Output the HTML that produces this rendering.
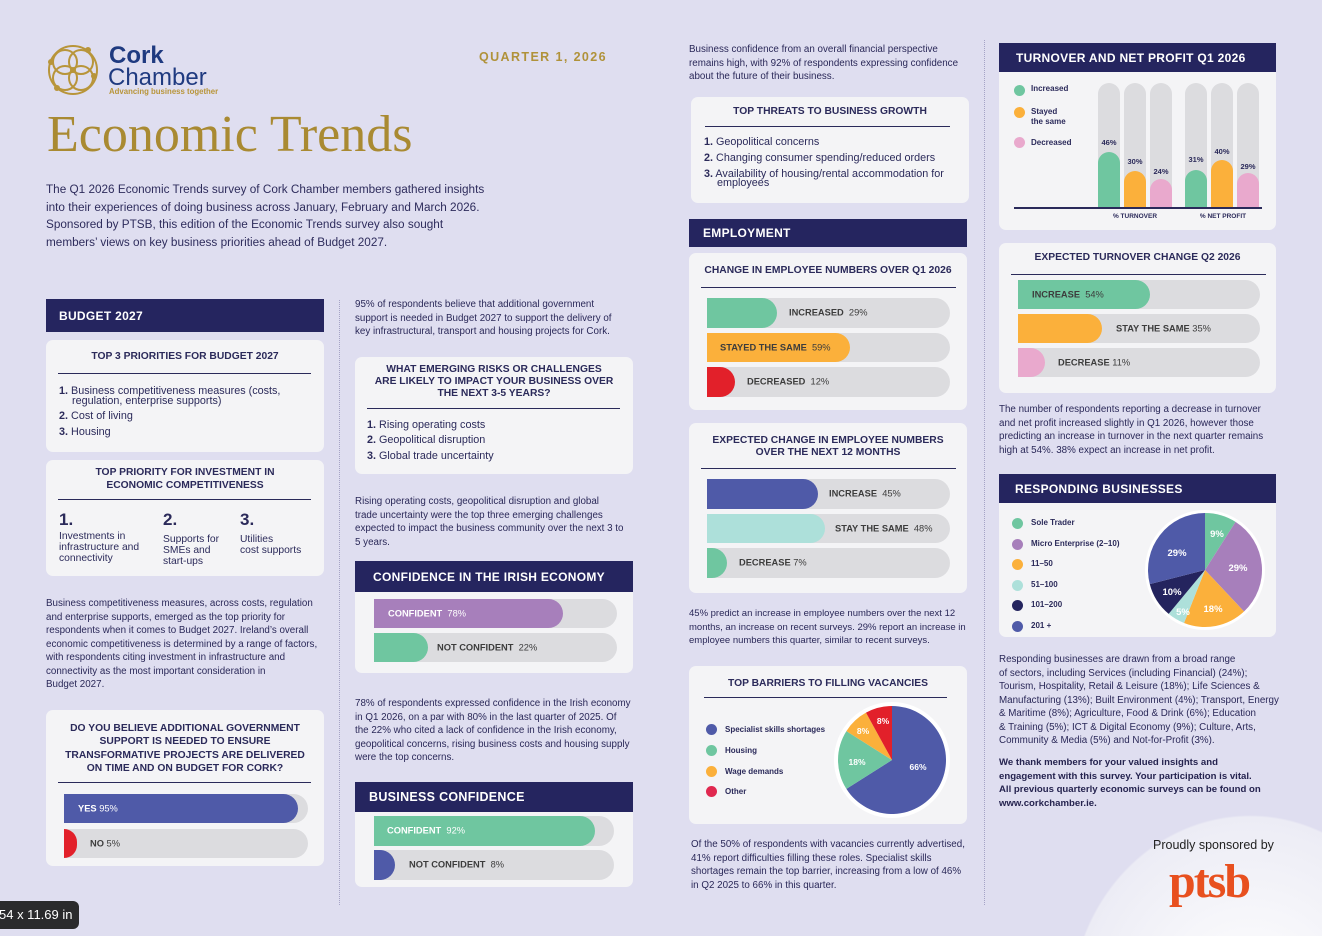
<!DOCTYPE html>
<html><head><meta charset="utf-8">
<style>
*{margin:0;padding:0;box-sizing:border-box}
html,body{width:1322px;height:936px;overflow:hidden}
body{background:#dfdef0;font-family:"Liberation Sans",sans-serif;color:#2f2d5e;position:relative}
.a{position:absolute;white-space:nowrap;line-height:1}
.p{position:absolute;white-space:nowrap;font-size:9.8px;line-height:13.5px;color:#2a2858}
.card{position:absolute;background:#f4f4f6;border-radius:7px}
.hd{position:absolute;background:#25255f;color:#fff;font-weight:bold;font-size:12px;letter-spacing:.3px}
.hd span{position:absolute;top:50%;transform:translateY(-50%);white-space:nowrap}
.ct{position:absolute;text-align:center;font-weight:bold;font-size:10.3px;line-height:12.8px;color:#2b2a5a;white-space:nowrap}
.rule{position:absolute;height:1.3px;background:#2a2a5a}
.li{position:absolute;white-space:nowrap;font-size:10.8px;line-height:1;color:#2b2a5a}
.li b{font-weight:bold}
.tr{position:absolute;background:#dcdcdf;border-radius:0 15px 15px 0;overflow:hidden}
.fl{position:absolute;left:0;top:0;bottom:0;border-radius:0 15px 15px 0}
.bl{position:absolute;top:50%;transform:translateY(-50%);white-space:nowrap;font-size:9.3px;color:#3c3c3c;line-height:1}
.bl b{font-weight:bold}
.w{color:#fff}
.col{position:absolute;width:22px;background:#dcdcdf;border-radius:11px 11px 0 0;overflow:hidden}
.col div{position:absolute;left:0;right:0;bottom:0;border-radius:11px 11px 0 0}
.cl{position:absolute;font-size:7.5px;font-weight:bold;color:#2b2a5a;width:30px;text-align:center;line-height:1}
.dot{position:absolute;width:11px;height:11px;border-radius:50%}
.lg{position:absolute;font-size:8px;font-weight:bold;color:#2b2a5a;white-space:nowrap;line-height:10px}
.vd{position:absolute;width:0;border-left:1px dotted #a5a3c6}
</style></head><body>

<!-- bottom right blob (single element, gradient) -->
<div style="position:absolute;left:1060px;top:810px;width:262px;height:126px;background:radial-gradient(ellipse 180px 195px at 190px 200px,#ffffff 0%,#f6f6fa 50%,#ececf5 99%,rgba(236,236,245,0) 100%)"></div>

<!-- Logo -->
<svg style="position:absolute;left:44px;top:42px" width="60" height="56" viewBox="0 0 60 56">
<g fill="none" stroke="#b8953a" stroke-width="2">
<circle cx="29" cy="28" r="24"/>
<circle cx="21" cy="20" r="12"/>
<circle cx="37" cy="20" r="12"/>
<circle cx="21" cy="36" r="12"/>
<circle cx="37" cy="36" r="12"/>
</g>
<g fill="#b8953a">
<circle cx="7" cy="20" r="3"/><circle cx="13" cy="46" r="3"/><circle cx="44" cy="8" r="3"/><circle cx="50" cy="34" r="3"/><circle cx="29" cy="28" r="3"/>
</g>
</svg>
<div class="a" style="left:109px;top:44px;font-size:24px;font-weight:bold;color:#1f3a80">Cork</div>
<div class="a" style="left:108px;top:66px;font-size:24px;color:#1f3a80">Chamber</div>
<div class="a" style="left:109px;top:88px;font-size:7.8px;font-weight:bold;color:#b8953a">Advancing business together</div>

<div class="a" style="left:479px;top:51px;font-size:12.5px;font-weight:bold;color:#b0923a;letter-spacing:1.4px">QUARTER 1, 2026</div>
<div class="a" style="left:47px;top:109px;font-size:52px;font-family:'Liberation Serif',serif;color:#a98a32">Economic Trends</div>

<div class="p" style="left:46px;top:181px;font-size:11.75px;line-height:17.7px;color:#2e2c5c">The Q1 2026 Economic Trends survey of Cork Chamber members gathered insights<br>into their experiences of doing business across January, February and March 2026.<br>Sponsored by PTSB, this edition of the Economic Trends survey also sought<br>members’ views on key business priorities ahead of Budget 2027.</div>

<!-- dotted dividers -->
<div class="vd" style="left:339px;top:300px;height:605px"></div>
<div class="vd" style="left:984px;top:40px;height:865px"></div>

<!-- ========== COLUMN 1 ========== -->
<div class="hd" style="left:46px;top:299px;width:278px;height:33px"><span style="left:13px">BUDGET 2027</span></div>

<div class="card" style="left:46px;top:340px;width:278px;height:112px"></div>
<div class="ct" style="left:46px;top:351px;width:278px">TOP 3 PRIORITIES FOR BUDGET 2027</div>
<div class="rule" style="left:58px;top:373px;width:253px"></div>
<div class="li" style="left:59px;top:386px"><b>1.</b> Business competitiveness measures (costs,</div>
<div class="li" style="left:72px;top:396px">regulation, enterprise supports)</div>
<div class="li" style="left:59px;top:411px"><b>2.</b> Cost of living</div>
<div class="li" style="left:59px;top:427px"><b>3.</b> Housing</div>

<div class="card" style="left:46px;top:460px;width:278px;height:116px"></div>
<div class="ct" style="left:46px;top:467px;width:278px">TOP PRIORITY FOR INVESTMENT IN<br>ECONOMIC COMPETITIVENESS</div>
<div class="rule" style="left:58px;top:499px;width:253px"></div>
<div class="a" style="left:59px;top:511px;font-size:17px;font-weight:bold;color:#2b2a5a">1.</div>
<div class="a" style="left:163px;top:511px;font-size:17px;font-weight:bold;color:#2b2a5a">2.</div>
<div class="a" style="left:240px;top:511px;font-size:17px;font-weight:bold;color:#2b2a5a">3.</div>
<div class="p" style="left:59px;top:531px;font-size:10.3px;line-height:11px;color:#2b2a5a">Investments in<br>infrastructure and<br>connectivity</div>
<div class="p" style="left:163px;top:534px;font-size:10.3px;line-height:11px;color:#2b2a5a">Supports for<br>SMEs and<br>start-ups</div>
<div class="p" style="left:240px;top:534px;font-size:10.3px;line-height:11px;color:#2b2a5a">Utilities<br>cost supports</div>

<div class="p" style="left:46px;top:597px">Business competitiveness measures, across costs, regulation<br>and enterprise supports, emerged as the top priority for<br>respondents when it comes to Budget 2027. Ireland’s overall<br>economic competitiveness is determined by a range of factors,<br>with respondents citing investment in infrastructure and<br>connectivity as the most important consideration in<br>Budget 2027.</div>

<div class="card" style="left:46px;top:710px;width:278px;height:156px"></div>
<div class="ct" style="left:46px;top:722px;width:278px;line-height:13.4px">DO YOU BELIEVE ADDITIONAL GOVERNMENT<br>SUPPORT IS NEEDED TO ENSURE<br>TRANSFORMATIVE PROJECTS ARE DELIVERED<br>ON TIME AND ON BUDGET FOR CORK?</div>
<div class="rule" style="left:58px;top:782px;width:253px"></div>
<div class="tr" style="left:64px;top:794px;width:244px;height:29px"><div class="fl" style="width:234px;background:#4f5aa8"></div><div class="bl w" style="left:14px"><b>YES</b> 95%</div></div>
<div class="tr" style="left:64px;top:829px;width:244px;height:29px"><div class="fl" style="width:13px;background:#e2202a"></div><div class="bl" style="left:26px"><b>NO</b> 5%</div></div>

<!-- ========== COLUMN 2 ========== -->
<div class="p" style="left:355px;top:298px">95% of respondents believe that additional government<br>support is needed in Budget 2027 to support the delivery of<br>key infrastructural, transport and housing projects for Cork.</div>

<div class="card" style="left:355px;top:357px;width:278px;height:117px"></div>
<div class="ct" style="left:355px;top:364px;width:278px;line-height:12px">WHAT EMERGING RISKS OR CHALLENGES<br>ARE LIKELY TO IMPACT YOUR BUSINESS OVER<br>THE NEXT 3-5 YEARS?</div>
<div class="rule" style="left:367px;top:408px;width:253px"></div>
<div class="li" style="left:367px;top:420px"><b>1.</b> Rising operating costs</div>
<div class="li" style="left:367px;top:435px"><b>2.</b> Geopolitical disruption</div>
<div class="li" style="left:367px;top:451px"><b>3.</b> Global trade uncertainty</div>

<div class="p" style="left:355px;top:495px">Rising operating costs, geopolitical disruption and global<br>trade uncertainty were the top three emerging challenges<br>expected to impact the business community over the next 3 to<br>5 years.</div>

<div class="hd" style="left:355px;top:561px;width:278px;height:31px;font-size:12px"><span style="left:18px">CONFIDENCE IN THE IRISH ECONOMY</span></div>
<div class="card" style="left:355px;top:592px;width:278px;height:81px;border-radius:0 0 7px 7px"></div>
<div class="tr" style="left:374px;top:599px;width:243px;height:29px"><div class="fl" style="width:189px;background:#a77fbb"></div><div class="bl w" style="left:14px"><b>CONFIDENT</b>&nbsp; 78%</div></div>
<div class="tr" style="left:374px;top:633px;width:243px;height:29px"><div class="fl" style="width:54px;background:#6fc6a0"></div><div class="bl" style="left:63px"><b>NOT CONFIDENT</b>&nbsp; 22%</div></div>

<div class="p" style="left:355px;top:697px">78% of respondents expressed confidence in the Irish economy<br>in Q1 2026, on a par with 80% in the last quarter of 2025. Of<br>the 22% who cited a lack of confidence in the Irish economy,<br>geopolitical concerns, rising business costs and housing supply<br>were the top concerns.</div>

<div class="hd" style="left:355px;top:782px;width:278px;height:30px;font-size:12.5px"><span style="left:14px">BUSINESS CONFIDENCE</span></div>
<div class="card" style="left:355px;top:812px;width:278px;height:75px;border-radius:0 0 7px 7px"></div>
<div class="tr" style="left:374px;top:816px;width:240px;height:30px"><div class="fl" style="width:221px;background:#6fc6a0"></div><div class="bl w" style="left:13px"><b>CONFIDENT</b>&nbsp; 92%</div></div>
<div class="tr" style="left:374px;top:850px;width:240px;height:30px"><div class="fl" style="width:21px;background:#4f5aa8"></div><div class="bl" style="left:35px"><b>NOT CONFIDENT</b>&nbsp; 8%</div></div>

<!-- ========== COLUMN 3 ========== -->
<div class="p" style="left:689px;top:43px">Business confidence from an overall financial perspective<br>remains high, with 92% of respondents expressing confidence<br>about the future of their business.</div>

<div class="card" style="left:691px;top:97px;width:278px;height:106px"></div>
<div class="ct" style="left:691px;top:106px;width:278px">TOP THREATS TO BUSINESS GROWTH</div>
<div class="rule" style="left:705px;top:126px;width:245px"></div>
<div class="li" style="left:704px;top:137px"><b>1.</b> Geopolitical concerns</div>
<div class="li" style="left:704px;top:153px"><b>2.</b> Changing consumer spending/reduced orders</div>
<div class="li" style="left:704px;top:169px"><b>3.</b> Availability of housing/rental accommodation for</div>
<div class="li" style="left:717px;top:178px">employees</div>

<div class="hd" style="left:689px;top:219px;width:278px;height:28px"><span style="left:14px">EMPLOYMENT</span></div>

<div class="card" style="left:689px;top:253px;width:278px;height:157px"></div>
<div class="ct" style="left:689px;top:265px;width:278px">CHANGE IN EMPLOYEE NUMBERS OVER Q1 2026</div>
<div class="rule" style="left:701px;top:287px;width:255px"></div>
<div class="tr" style="left:707px;top:298px;width:243px;height:30px"><div class="fl" style="width:70px;background:#6fc6a0"></div><div class="bl" style="left:82px"><b>INCREASED</b>&nbsp; 29%</div></div>
<div class="tr" style="left:707px;top:333px;width:243px;height:29px"><div class="fl" style="width:143px;background:#fbb03b"></div><div class="bl" style="left:13px"><b>STAYED THE SAME</b>&nbsp; 59%</div></div>
<div class="tr" style="left:707px;top:367px;width:243px;height:30px"><div class="fl" style="width:28px;background:#e2202a"></div><div class="bl" style="left:40px"><b>DECREASED</b>&nbsp; 12%</div></div>

<div class="card" style="left:689px;top:423px;width:278px;height:170px"></div>
<div class="ct" style="left:689px;top:435px;width:278px;line-height:12px">EXPECTED CHANGE IN EMPLOYEE NUMBERS<br>OVER THE NEXT 12 MONTHS</div>
<div class="rule" style="left:701px;top:468px;width:255px"></div>
<div class="tr" style="left:707px;top:479px;width:243px;height:30px"><div class="fl" style="width:111px;background:#4f5aa8"></div><div class="bl" style="left:122px"><b>INCREASE</b>&nbsp; 45%</div></div>
<div class="tr" style="left:707px;top:514px;width:243px;height:29px"><div class="fl" style="width:118px;background:#ade0da"></div><div class="bl" style="left:128px"><b>STAY THE SAME</b>&nbsp; 48%</div></div>
<div class="tr" style="left:707px;top:548px;width:243px;height:30px"><div class="fl" style="width:20px;background:#6fc6a0"></div><div class="bl" style="left:32px"><b>DECREASE</b> 7%</div></div>

<div class="p" style="left:689px;top:607px;font-size:9.5px">45% predict an increase in employee numbers over the next 12<br>months, an increase on recent surveys. 29% report an increase in<br>employee numbers this quarter, similar to recent surveys.</div>

<div class="card" style="left:689px;top:666px;width:278px;height:158px"></div>
<div class="ct" style="left:689px;top:678px;width:278px">TOP BARRIERS TO FILLING VACANCIES</div>
<div class="rule" style="left:704px;top:697px;width:243px"></div>
<div class="dot" style="left:706px;top:724px;background:#4f5aa8"></div>
<div class="dot" style="left:706px;top:745px;background:#6fc6a0"></div>
<div class="dot" style="left:706px;top:766px;background:#fbb03b"></div>
<div class="dot" style="left:706px;top:786px;background:#e0284f"></div>
<div class="lg" style="left:725px;top:725px">Specialist skills shortages</div>
<div class="lg" style="left:725px;top:746px">Housing</div>
<div class="lg" style="left:725px;top:767px">Wage demands</div>
<div class="lg" style="left:725px;top:787px">Other</div>
<svg style="position:absolute;left:832px;top:700px" width="120" height="120" viewBox="-60 -60 120 120">
<circle cx="0" cy="0" r="58" fill="#fff"/>
<path d="M0,0 L0,-54 A54,54 0 1 1 -45.59,28.93 Z" fill="#4f5aa8"/>
<path d="M0,0 L-45.59,28.93 A54,54 0 0 1 -45.59,-28.93 Z" fill="#6fc6a0"/>
<path d="M0,0 L-45.59,-28.93 A54,54 0 0 1 -26.02,-47.32 Z" fill="#fbb03b"/>
<path d="M0,0 L-26.02,-47.32 A54,54 0 0 1 0,-54 Z" fill="#e2202a"/>
<g fill="#fff" font-family="Liberation Sans, sans-serif" font-weight="bold" font-size="8.5" text-anchor="middle">
<text x="26" y="10">66%</text>
<text x="-35" y="5">18%</text>
<text x="-29" y="-26">8%</text>
<text x="-9" y="-36">8%</text>
</g>
</svg>

<div class="p" style="left:691px;top:838px">Of the 50% of respondents with vacancies currently advertised,<br>41% report difficulties filling these roles. Specialist skills<br>shortages remain the top barrier, increasing from a low of 46%<br>in Q2 2025 to 66% in this quarter.</div>

<!-- ========== COLUMN 4 ========== -->
<div class="hd" style="left:999px;top:43px;width:277px;height:29px"><span style="left:17px">TURNOVER AND NET PROFIT Q1 2026</span></div>
<div class="card" style="left:999px;top:72px;width:277px;height:158px;border-radius:0 0 7px 7px"></div>
<div class="dot" style="left:1014px;top:85px;background:#6fc6a0"></div>
<div class="dot" style="left:1014px;top:107px;background:#fbb03b"></div>
<div class="dot" style="left:1014px;top:137px;background:#e9a9cd"></div>
<div class="lg" style="left:1031px;top:84px">Increased</div>
<div class="lg" style="left:1031px;top:107px">Stayed<br>the same</div>
<div class="lg" style="left:1031px;top:138px">Decreased</div>

<div class="col" style="left:1098px;top:83px;height:125px"><div style="height:56px;background:#6fc6a0"></div></div>
<div class="col" style="left:1124px;top:83px;height:125px"><div style="height:37px;background:#fbb03b"></div></div>
<div class="col" style="left:1150px;top:83px;height:125px"><div style="height:29px;background:#e9a9cd"></div></div>
<div class="col" style="left:1185px;top:83px;height:125px"><div style="height:38px;background:#6fc6a0"></div></div>
<div class="col" style="left:1211px;top:83px;height:125px"><div style="height:48px;background:#fbb03b"></div></div>
<div class="col" style="left:1237px;top:83px;height:125px"><div style="height:35px;background:#e9a9cd"></div></div>
<div class="cl" style="left:1094px;top:139px">46%</div>
<div class="cl" style="left:1120px;top:158px">30%</div>
<div class="cl" style="left:1146px;top:168px">24%</div>
<div class="cl" style="left:1181px;top:156px">31%</div>
<div class="cl" style="left:1207px;top:148px">40%</div>
<div class="cl" style="left:1233px;top:163px">29%</div>
<div style="position:absolute;left:1014px;top:207px;width:248px;height:1.5px;background:#2a2a5a"></div>
<div class="a" style="left:1105px;top:214px;width:60px;text-align:center;font-size:6.5px;font-weight:bold;color:#2b2a5a">% TURNOVER</div>
<div class="a" style="left:1188px;top:214px;width:70px;text-align:center;font-size:6.5px;font-weight:bold;color:#2b2a5a">% NET PROFIT</div>

<div class="card" style="left:999px;top:243px;width:277px;height:150px"></div>
<div class="ct" style="left:999px;top:252px;width:277px">EXPECTED TURNOVER CHANGE Q2 2026</div>
<div class="rule" style="left:1011px;top:274px;width:255px"></div>
<div class="tr" style="left:1018px;top:280px;width:242px;height:29px"><div class="fl" style="width:132px;background:#6fc6a0"></div><div class="bl" style="left:14px"><b>INCREASE</b>&nbsp; 54%</div></div>
<div class="tr" style="left:1018px;top:314px;width:242px;height:29px"><div class="fl" style="width:84px;background:#fbb03b"></div><div class="bl" style="left:98px"><b>STAY THE SAME</b> 35%</div></div>
<div class="tr" style="left:1018px;top:348px;width:242px;height:29px"><div class="fl" style="width:27px;background:#e9a9cd"></div><div class="bl" style="left:40px"><b>DECREASE</b> 11%</div></div>

<div class="p" style="left:999px;top:403px">The number of respondents reporting a decrease in turnover<br>and net profit increased slightly in Q1 2026, however those<br>predicting an increase in turnover in the next quarter remains<br>high at 54%. 38% expect an increase in net profit.</div>

<div class="hd" style="left:999px;top:474px;width:277px;height:29px"><span style="left:16px">RESPONDING BUSINESSES</span></div>
<div class="card" style="left:999px;top:503px;width:277px;height:134px;border-radius:0 0 7px 7px"></div>
<div class="dot" style="left:1012px;top:518px;background:#6fc6a0"></div>
<div class="dot" style="left:1012px;top:539px;background:#a77fbb"></div>
<div class="dot" style="left:1012px;top:559px;background:#fbb03b"></div>
<div class="dot" style="left:1012px;top:580px;background:#ade0da"></div>
<div class="dot" style="left:1012px;top:600px;background:#24245e"></div>
<div class="dot" style="left:1012px;top:621px;background:#4f5aa8"></div>
<div class="lg" style="left:1031px;top:518px">Sole Trader</div>
<div class="lg" style="left:1031px;top:539px">Micro Enterprise (2–10)</div>
<div class="lg" style="left:1031px;top:559px">11–50</div>
<div class="lg" style="left:1031px;top:580px">51–100</div>
<div class="lg" style="left:1031px;top:600px">101–200</div>
<div class="lg" style="left:1031px;top:621px">201 +</div>
<svg style="position:absolute;left:1140px;top:505px" width="130" height="130" viewBox="-65 -65 130 130">
<circle cx="0" cy="0" r="60" fill="#fff"/>
<path d="M0,0 L0,-57 A57,57 0 0 1 30.54,-48.13 Z" fill="#6fc6a0"/>
<path d="M0,0 L30.54,-48.13 A57,57 0 0 1 39.02,41.55 Z" fill="#a77fbb"/>
<path d="M0,0 L39.02,41.55 A57,57 0 0 1 -20.98,53 Z" fill="#fbb03b"/>
<path d="M0,0 L-20.98,53 A57,57 0 0 1 -36.33,43.92 Z" fill="#ade0da"/>
<path d="M0,0 L-36.33,43.92 A57,57 0 0 1 -55.21,14.18 Z" fill="#24245e"/>
<path d="M0,0 L-55.21,14.18 A57,57 0 0 1 0,-57 Z" fill="#4f5aa8"/>
<g fill="#fff" font-family="Liberation Sans, sans-serif" font-weight="bold" font-size="9.5" text-anchor="middle">
<text x="12" y="-33">9%</text>
<text x="33" y="1">29%</text>
<text x="8" y="42">18%</text>
<text x="-22" y="45">5%</text>
<text x="-33" y="25">10%</text>
<text x="-28" y="-14">29%</text>
</g>
</svg>

<div class="p" style="left:999px;top:653px">Responding businesses are drawn from a broad range<br>of sectors, including Services (including Financial) (24%);<br>Tourism, Hospitality, Retail &amp; Leisure (18%); Life Sciences &amp;<br>Manufacturing (13%); Built Environment (4%); Transport, Energy<br>&amp; Maritime (8%); Agriculture, Food &amp; Drink (6%); Education<br>&amp; Training (5%); ICT &amp; Digital Economy (9%); Culture, Arts,<br>Community &amp; Media (5%) and Not-for-Profit (3%).</div>

<div class="p" style="left:999px;top:756px;font-weight:bold;color:#25234f;font-size:9.6px">We thank members for your valued insights and<br>engagement with this survey. Your participation is vital.<br>All previous quarterly economic surveys can be found on<br>www.corkchamber.ie.</div>

<div class="a" style="left:1153px;top:839px;font-size:12.5px;color:#222">Proudly sponsored by</div>
<div class="a" style="left:1169px;top:858px;font-size:48px;letter-spacing:-2px;font-family:'Liberation Serif',serif;font-weight:bold;color:#e8501f">ptsb</div>

<!-- tooltip -->
<div style="position:absolute;left:0;top:901px;width:79px;height:28px;background:#2a2a2c;border-radius:0 6px 6px 0"></div>
<div class="a" style="left:-1px;top:908px;font-size:13px;color:#fff">54 x 11.69 in</div>

</body></html>
